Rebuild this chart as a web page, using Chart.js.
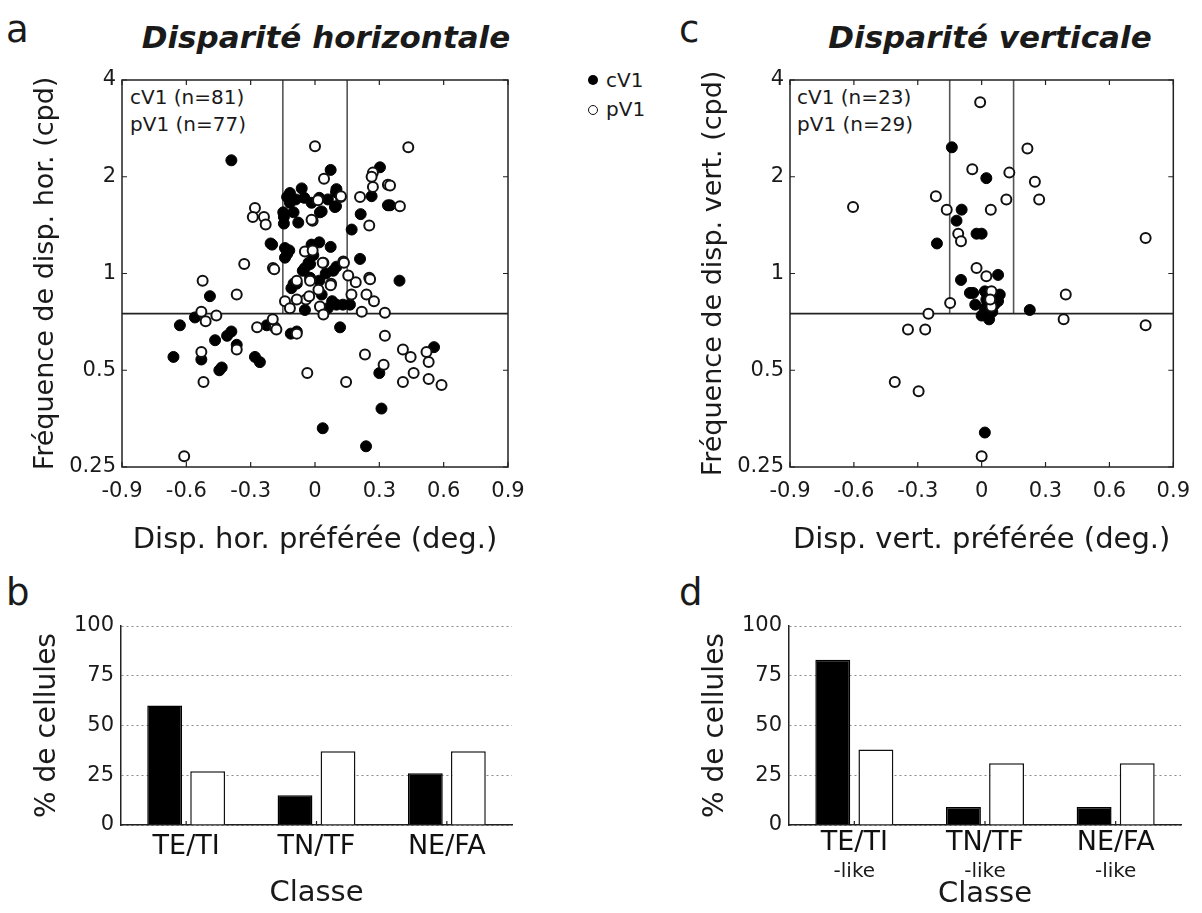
<!DOCTYPE html>
<html>
<head>
<meta charset="utf-8">
<script src="https://cdn.jsdelivr.net/npm/chart.js@4.4.1/dist/chart.umd.min.js"></script>
<style>
  body { margin: 0; background: #fff; width: 1202px; height: 913px; overflow: hidden; position: relative;
         font-family: "DejaVu Sans", sans-serif; color: #1a1a1a; }
  .t { position: absolute; white-space: nowrap; line-height: 1; }
  .big { font-size: 37px; }
  .ttl { font-size: 31px; font-weight: bold; font-style: italic; text-align: center; width: 500px; }
  .note { font-size: 20px; }
  canvas { position: absolute; }
  .dot { position: absolute; width: 10px; height: 10px; border-radius: 50%; box-sizing: border-box; }
</style>
</head>
<body>

<div class="t big" style="left:6px;top:11px">a</div>
<div class="t ttl" style="left:76px;top:22px">Disparité horizontale</div>
<div class="t big" style="left:679px;top:11px">c</div>
<div class="t ttl" style="left:740px;top:22px">Disparité verticale</div>
<div class="t big" style="left:6px;top:574px">b</div>
<div class="t big" style="left:679px;top:574px">d</div>

<div class="dot" style="left:588px;top:75px;background:#000"></div>
<div class="t note" style="left:606px;top:70px">cV1</div>
<div class="dot" style="left:588px;top:105px;border:1.6px solid #111;background:#fff"></div>
<div class="t note" style="left:606px;top:99px">pV1</div>

<div class="t note" style="left:130px;top:87px">cV1 (n=81)</div>
<div class="t note" style="left:130px;top:114px">pV1 (n=77)</div>
<div class="t note" style="left:797px;top:87px">cV1 (n=23)</div>
<div class="t note" style="left:797px;top:114px">pV1 (n=29)</div>

<canvas id="chartA" width="545" height="505" style="left:0;top:60px"></canvas>
<canvas id="chartC" width="534" height="505" style="left:668px;top:60px"></canvas>
<canvas id="chartB" width="545" height="328" style="left:0;top:585px"></canvas>
<canvas id="chartD" width="534" height="328" style="left:668px;top:585px"></canvas>

<script>
// disparité horizontale : cV1 (points pleins)
const horCx = [-0.39, 0.073, -0.117, -0.062, -0.117, -0.016, 0.031, 0.098, 0.098, -0.078, -0.145, -0.145, -0.207, -0.12, -0.016, 0.073,
  0.21, 0.303, 0.264, 0.34, 0.213, 0.171, 0.394, 0.1, -0.2, 0.117, -0.113, -0.085, 0.30, 0.555, 0.31, 0.036, 0.238,
  -0.49, -0.56, -0.63, -0.466, -0.41, -0.39, -0.365, -0.66, -0.53, -0.446, -0.435, -0.28, -0.257, -0.225,
  -0.1, -0.057, -0.03, 0.031, 0.085, 0.1, 0.163, -0.047, 0.02, -0.13, -0.14, -0.148, -0.13, 0.1, 0.023, 0.093, 0.06,
  -0.047, -0.023, -0.008, -0.023, -0.085, 0.35, 0.02, -0.09, -0.05, 0.13, 0.06, 0.05, -0.11, 0.08, -0.14, 0.02, -0.1];
const horCf = [2.25, 2.10, 1.78, 1.84, 1.66, 1.66, 1.56, 1.79, 1.62, 1.44, 1.50, 1.43, 1.24, 1.18, 1.23, 1.21,
  1.11, 2.14, 1.74, 1.63, 1.53, 1.37, 0.95, 1.05, 1.23, 0.68, 0.65, 0.66, 0.49, 0.59, 0.38, 0.33, 0.29,
  0.85, 0.73, 0.69, 0.62, 0.64, 0.66, 0.60, 0.55, 0.54, 0.50, 0.51, 0.55, 0.53, 0.69,
  0.93, 1.02, 1.08, 0.86, 1.02, 0.80, 0.80, 0.77, 0.95, 1.15, 1.12, 1.55, 1.73, 1.83, 1.55, 1.61, 1.70,
  1.04, 1.07, 1.14, 0.97, 0.93, 1.63, 1.25, 1.70, 1.72, 0.80, 0.78, 1.00, 0.90, 0.82, 1.20, 1.72, 1.55];
// disparité horizontale : pV1 (cercles vides)
const horPx = [0.0, 0.042, 0.014, 0.12, -0.011, -0.28, -0.29, -0.238, -0.23, -0.047, -0.011, -0.33, -0.196, 0.27, 0.27, 0.21,
  0.34, 0.253, 0.435, 0.264, 0.35, 0.396, 0.253, 0.19, 0.155, 0.132, 0.075, 0.039, -0.19, 0.326, 0.326, -0.187,
  0.233, 0.32, 0.41, 0.446, 0.52, 0.53, 0.46, 0.41, 0.53, 0.59, -0.036, 0.145, -0.524, -0.365, -0.53, -0.51, -0.46,
  -0.365, -0.53, -0.52, -0.27, -0.197, -0.18, -0.085, -0.61, -0.14, -0.117, -0.085, -0.023, 0.016, 0.073, 0.036,
  0.135, 0.257, 0.24, 0.275, 0.17, -0.042, 0.023, -0.085, -0.027, 0.039, 0.218, -0.016, 0.121];
const horPf = [2.49, 1.97, 1.69, 1.73, 1.46, 1.60, 1.50, 1.50, 1.42, 1.17, 1.18, 1.07, 1.04, 1.86, 2.06, 1.73,
  1.89, 1.41, 2.47, 2.00, 1.88, 1.62, 0.97, 0.94, 0.985, 1.09, 0.93, 1.08, 1.03, 0.755, 0.64, 0.68,
  0.56, 0.52, 0.58, 0.55, 0.57, 0.53, 0.49, 0.46, 0.47, 0.45, 0.49, 0.46, 0.95, 0.86, 0.76, 0.71, 0.74,
  0.58, 0.57, 0.46, 0.68, 0.72, 0.67, 0.65, 0.27, 0.82, 0.78, 0.95, 0.95, 0.89, 0.92, 1.08,
  1.08, 0.96, 0.86, 0.82, 0.86, 0.83, 0.79, 0.83, 0.85, 0.745, 0.76, 1.47, 1.74];

// disparité verticale : cV1
const verCx = [-0.14, 0.022, -0.094, -0.118, -0.024, 0.0, -0.21, 0.077, -0.097, -0.055, -0.04, 0.015, 0.085, 0.022,
  0.077, 0.015, 0.0, 0.015, 0.226, 0.05, 0.06, -0.03, 0.035];
const verCf = [2.47, 1.98, 1.58, 1.46, 1.33, 1.33, 1.24, 0.99, 0.955, 0.87, 0.87, 0.88, 0.86, 0.83,
  0.82, 0.78, 0.74, 0.32, 0.77, 0.76, 0.80, 0.80, 0.72];
// disparité verticale : pV1
const verPx = [-0.007, -0.044, 0.13, 0.116, 0.043, -0.164, -0.215, -0.11, -0.097, -0.604, 0.215, 0.25, 0.27,
  -0.024, 0.022, 0.046, 0.046, -0.148, -0.25, -0.346, -0.265, -0.408, -0.296, 0.0, 0.385, 0.395, 0.77, 0.77, 0.04];
const verPf = [3.41, 2.11, 2.06, 1.70, 1.58, 1.58, 1.74, 1.33, 1.26, 1.61, 2.45, 1.93, 1.70,
  1.04, 0.98, 0.88, 0.79, 0.81, 0.75, 0.67, 0.67, 0.46, 0.43, 0.27, 0.72, 0.86, 0.69, 1.29, 0.83];

// limites des classes
const zoneX = [-0.15, 0.15];
const zoneF = 0.75;

const dispTicks = [-0.9, -0.6, -0.3, 0, 0.3, 0.6, 0.9];
const dispLabels = ['-0.9', '-0.6', '-0.3', '0', '0.3', '0.6', '0.9'];
const freqTicks = [0.25, 0.5, 1, 2, 4];
const freqLabels = ['0.25', '0.5', '1', '2', '4'];

// histogrammes (% de cellules)
const classes = ['TE/TI', 'TN/TF', 'NE/FA'];
const classSuffix = '-like';
const pctHorC = [60, 15, 26];
const pctHorP = [27, 37, 37];
const pctVerC = [83, 9, 9];
const pctVerP = [38, 31, 31];
const pctTicks = [0, 25, 50, 75, 100];

Chart.defaults.font.family = '"DejaVu Sans", sans-serif';
Chart.defaults.color = '#1a1a1a';

const pts = (xs, ys) => xs.map((v, i) => ({ x: v, y: ys[i] }));

// cadre complet + petites graduations vers l'intérieur (style matlab)
const boxPlugin = {
  id: 'box',
  afterDatasetsDraw(chart) {
    const { ctx, chartArea: a, scales: { x, y } } = chart;
    ctx.save();
    ctx.strokeStyle = '#222';
    ctx.lineWidth = 1.5;
    ctx.strokeRect(a.left, a.top, a.right - a.left, a.bottom - a.top);
    ctx.lineWidth = 1.2;
    ctx.beginPath();
    x.ticks.forEach(t => {
      const p = x.getPixelForValue(t.value);
      ctx.moveTo(p, a.bottom); ctx.lineTo(p, a.bottom - 5);
      ctx.moveTo(p, a.top); ctx.lineTo(p, a.top + 5);
    });
    y.ticks.forEach(t => {
      const p = y.getPixelForValue(t.value);
      ctx.moveTo(a.left, p); ctx.lineTo(a.left + 5, p);
      ctx.moveTo(a.right, p); ctx.lineTo(a.right - 5, p);
    });
    ctx.stroke();
    ctx.restore();
  }
};

function scatterChart(id, cx, cf, px, pf, xTitle, yTitle, padRight) {
  const line = (data, color) => ({ data, showLine: true, pointRadius: 0, borderColor: color, borderWidth: 1.6, order: 3 });
  return new Chart(document.getElementById(id), {
    type: 'scatter',
    data: {
      datasets: [
        line([{ x: dispTicks[0], y: zoneF }, { x: dispTicks[6], y: zoneF }], '#222'),
        line([{ x: zoneX[0], y: zoneF }, { x: zoneX[0], y: freqTicks[4] }], '#555'),
        line([{ x: zoneX[1], y: zoneF }, { x: zoneX[1], y: freqTicks[4] }], '#555'),
        { label: 'cV1', data: pts(cx, cf), pointRadius: 5.5, backgroundColor: '#000', borderColor: '#000', borderWidth: 1, order: 2 },
        { label: 'pV1', data: pts(px, pf), pointRadius: 5, backgroundColor: '#fff', borderColor: '#111', borderWidth: 2, order: 1 }
      ]
    },
    options: {
      responsive: false, animation: false, events: [],
      layout: { padding: { top: 20, right: padRight, left: 0, bottom: 0 } },
      plugins: { legend: { display: false }, tooltip: { enabled: false } },
      scales: {
        x: {
          type: 'linear', min: -0.9, max: 0.9,
          afterBuildTicks: s => { s.ticks = dispTicks.map(v => ({ value: v })); },
          afterFit: s => { s.height = 98; },
          grid: { display: false, drawTicks: false },
          border: { display: false },
          ticks: { font: { size: 21 }, padding: 12, autoSkip: false, maxRotation: 0, callback: (v, i) => dispLabels[i] },
          title: { display: true, text: xTitle, font: { size: 29 }, padding: { top: 0, bottom: 7 } }
        },
        y: {
          type: 'logarithmic', min: 0.25, max: 4,
          afterBuildTicks: s => { s.ticks = freqTicks.map(v => ({ value: v })); },
          afterFit: s => { s.width = 122; },
          grid: { display: false, drawTicks: false },
          border: { display: false },
          ticks: { font: { size: 21 }, padding: 6, autoSkip: false, callback: (v, i) => freqLabels[i] },
          title: { display: true, text: yTitle, font: { size: 27 }, padding: { top: 30, bottom: 0 } }
        }
      }
    },
    plugins: [boxPlugin]
  });
}

scatterChart('chartA', horCx, horCf, horPx, horPf, 'Disp. hor. préférée (deg.)', 'Fréquence de disp. hor. (cpd)', 37);
scatterChart('chartC', verCx, verCf, verPx, verPf, 'Disp. vert. préférée (deg.)', 'Fréquence de disp. vert. (cpd)', 25.5);

// petites graduations au centre de chaque classe + sous-titre "-like"
const barExtras = {
  id: 'barExtras',
  afterDraw(chart, args, opts) {
    const { ctx, chartArea: a, scales: { x } } = chart;
    ctx.save();
    ctx.strokeStyle = '#222';
    ctx.lineWidth = 1.2;
    ctx.beginPath();
    x.ticks.forEach((t, i) => {
      const p = x.getPixelForTick(i);
      ctx.moveTo(p, a.bottom); ctx.lineTo(p, a.bottom - 4);
    });
    ctx.stroke();
    if (opts.suffix) {
      ctx.fillStyle = '#1a1a1a';
      ctx.font = '20px "DejaVu Sans"';
      ctx.textAlign = 'center';
      ctx.textBaseline = 'alphabetic';
      x.ticks.forEach((t, i) => ctx.fillText(opts.suffix, x.getPixelForTick(i), a.bottom + 52));
    }
    ctx.restore();
  }
};

function barChart(id, cVals, pVals, opt) {
  return new Chart(document.getElementById(id), {
    type: 'bar',
    data: {
      labels: classes,
      datasets: [
        { label: 'cV1', data: cVals, backgroundColor: '#000', borderColor: '#000', borderWidth: 1.5 },
        { label: 'pV1', data: pVals, backgroundColor: '#fff', borderColor: '#111', borderWidth: 1.5 }
      ]
    },
    options: {
      responsive: false, animation: false, events: [],
      categoryPercentage: 0.66, barPercentage: 0.81,
      layout: { padding: { top: 41, right: opt.padRight, left: 0, bottom: 0 } },
      plugins: { legend: { display: false }, tooltip: { enabled: false }, barExtras: { suffix: opt.suffix } },
      scales: {
        x: {
          afterFit: s => { s.height = 88; },
          grid: { display: false, drawTicks: false },
          border: { display: true, color: '#222', width: 1.5 },
          ticks: { font: { size: 27 }, padding: opt.labelPad, color: '#111' },
          title: { display: true, text: 'Classe', font: { size: 29 }, padding: { top: 0, bottom: opt.titlePad } }
        },
        y: {
          min: 0, max: 100,
          afterBuildTicks: s => { s.ticks = pctTicks.map(v => ({ value: v })); },
          afterFit: s => { s.width = opt.yWidth; },
          grid: { color: '#8a8a8a', lineWidth: 1, drawTicks: false },
          border: { display: true, color: '#222', width: 1.5, dash: [2, 3] },
          ticks: { font: { size: 21 }, padding: 7 },
          title: { display: true, text: '% de cellules', font: { size: 28 }, padding: { top: 31, bottom: 0 } }
        }
      }
    },
    plugins: [barExtras]
  });
}

barChart('chartB', pctHorC, pctHorP, { padRight: 33, yWidth: 121, labelPad: 6, titlePad: 2, suffix: null });
barChart('chartD', pctVerC, pctVerP, { padRight: 21, yWidth: 121, labelPad: 2, titlePad: 1, suffix: classSuffix });
</script>
</body>
</html>
